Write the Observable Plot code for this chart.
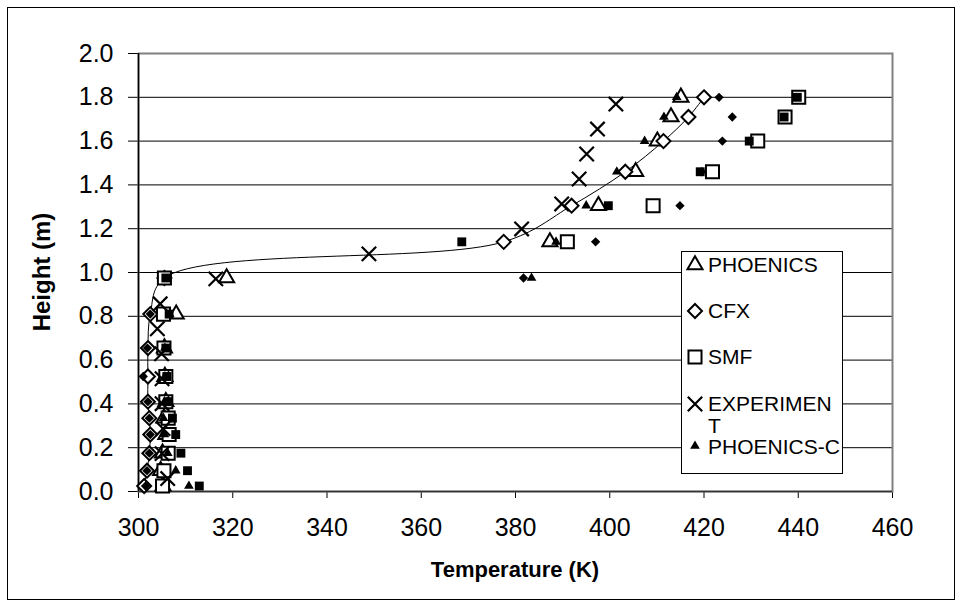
<!DOCTYPE html>
<html>
<head>
<meta charset="utf-8">
<script src="https://cdn.jsdelivr.net/npm/d3@7"></script>
<script src="https://cdn.jsdelivr.net/npm/@observablehq/plot@0.6"></script>
<style>
  html, body { margin: 0; padding: 0; background: #fff; }
  #wrap { position: relative; width: 964px; height: 608px; font-family: "Liberation Sans", Arial, sans-serif; }
  #outer { position: absolute; left: 7px; top: 7px; width: 948px; height: 593px; border: 1px solid #000; box-sizing: border-box; pointer-events: none; }
  #chart { position: absolute; left: 0; top: 0; }
  #legend { position: absolute; left: 0; top: 0; }
</style>
</head>
<body>
<div id="wrap">
  <div id="outer"></div>
  <div id="chart"></div>
  <svg id="legend" width="964" height="608"></svg>
</div>
<script>
// ---- data ----
const heights = [0.025, 0.095, 0.175, 0.26, 0.335, 0.41, 0.525, 0.655, 0.81, 0.975, 1.14, 1.305, 1.46, 1.6, 1.71, 1.8];
const expHeights = [0.059, 0.173, 0.287, 0.401, 0.515, 0.629, 0.743, 0.857, 0.971, 1.085, 1.199, 1.313, 1.427, 1.541, 1.655, 1.769];
const phoenics   = [305.2, 304.7, 305.1, 305.8, 305.4, 305.8, 305.6, 305.5, 308.0, 318.7, 387.3, 397.6, 405.5, 410.1, 413.0, 415.1];
const cfx        = [301.2, 301.8, 302.3, 302.5, 302.3, 302.0, 302.0, 302.0, 302.5, 305.5, 377.5, 391.9, 403.3, 411.4, 416.7, 420.0];
const smf        = [305.1, 305.4, 306.3, 306.5, 306.3, 305.8, 305.8, 305.4, 305.3, 305.5, 391.0, 409.2, 421.8, 431.4, 437.2, 440.1];
const experiment = [306.2, 305.0, 305.2, 305.0, 305.0, 304.9, 304.0, 304.6, 316.4, 348.9, 381.3, 389.8, 393.5, 395.1, 397.4, 401.3];
const phoenicsC  = [310.7, 307.9, 306.2, 305.5, 305.3, 305.5, 305.6, 305.6, 306.6, 383.4, 388.6, 395.0, 401.5, 407.4, 411.5, 414.2];
const cfxC       = [301.5, 301.8, 302.3, 302.5, 302.3, 302.0, 301.0, 301.9, 302.5, 381.7, 397.0, 414.9, 419.5, 423.9, 426.0, 423.2];
const smfC       = [312.9, 310.4, 309.0, 307.9, 307.2, 306.3, 306.0, 305.8, 306.5, 305.8, 368.6, 399.7, 419.2, 429.6, 437.0, 439.8];

const xTicks = [300, 320, 340, 360, 380, 400, 420, 440, 460];
const yTicks = [0.0, 0.2, 0.4, 0.6, 0.8, 1.0, 1.2, 1.4, 1.6, 1.8, 2.0];
const legendNames = ["PHOENICS", "CFX", "SMF", "EXPERIMENT", "PHOENICS-C"];
const xTitle = "Temperature (K)";
const yTitle = "Height (m)";

// ---- build tables ----
const rows = (temps, hs) => temps.map((t, i) => ({t, h: hs[i]}));
const dPh = rows(phoenics, heights);
const dCfx = rows(cfx, heights);
const dSmf = rows(smf, heights);
const dExp = rows(experiment, expHeights);
const dPhC = rows(phoenicsC, heights);
const dCfxC = rows(cfxC, heights);
const dSmfC = rows(smfC, heights);

const FONT = "'Liberation Sans', Arial, sans-serif";

const chart = Plot.plot({
  width: 964,
  height: 608,
  marginLeft: 138,
  marginRight: 72,
  marginTop: 53,
  marginBottom: 117,
  style: { fontFamily: FONT, fontSize: "25px", color: "#000", background: "transparent", overflow: "visible" },
  x: { domain: [300, 460], ticks: xTicks, tickSize: 7, tickPadding: 20, tickFormat: d => String(d), label: null },
  y: { domain: [0, 2], ticks: yTicks, tickSize: 10, tickPadding: 15, tickFormat: d3.format(".1f"), label: null },
  marks: [
    Plot.gridY(yTicks.filter(v => v > 0 && v < 2), { stroke: "#000", strokeOpacity: 1, strokeWidth: 1 }),
    Plot.frame({ stroke: "#808080", strokeWidth: 2 }),
    Plot.ruleX([300], { stroke: "#000", strokeWidth: 1.5 }),
    Plot.ruleY([0], { stroke: "#333", strokeWidth: 1.5 }),
    // PHOENICS
    Plot.dot(dPh, { x: "t", y: "h", symbol: "triangle2", r: 7.2, stroke: "#000", strokeWidth: 2, fill: "#fff" }),
    // CFX smooth line + markers
    Plot.line(dCfx, { x: "t", y: "h", curve: "catmull-rom", stroke: "#000", strokeWidth: 1 }),
    Plot.dot(dCfx, { x: "t", y: "h", symbol: "diamond2", r: 6.3, stroke: "#000", strokeWidth: 2, fill: "#fff" }),
    // SMF
    Plot.dot(dSmf, { x: "t", y: "h", symbol: "square2", r: 8.3, stroke: "#000", strokeWidth: 2, fill: "#fff" }),
    // EXPERIMENT
    Plot.dot(dExp, { x: "t", y: "h", symbol: "times", r: 6.6, stroke: "#000", strokeWidth: 2.2 }),
    // PHOENICS-C
    Plot.dot(dPhC, { x: "t", y: "h", symbol: "triangle", r: 3.6, fill: "#000", stroke: "none" }),
    // CFX-C
    Plot.dot(dCfxC, { x: "t", y: "h", symbol: "diamond2", r: 4.2, fill: "#000", stroke: "none" }),
    // SMF-C
    Plot.dot(dSmfC, { x: "t", y: "h", symbol: "square", r: 5, fill: "#000", stroke: "none" })
  ]
});
document.getElementById("chart").appendChild(chart);

// axis titles
const xs = chart.scale("x"), ys = chart.scale("y");
const svg = d3.select(chart);
svg.append("text")
  .attr("x", (xs.apply(300) + xs.apply(460)) / 2)
  .attr("y", 569).attr("dy", "0.35em")
  .attr("text-anchor", "middle")
  .style("font", `bold 22px ${FONT}`)
  .text(xTitle);
svg.append("text")
  .attr("transform", `translate(42,${(ys.apply(0) + ys.apply(2)) / 2}) rotate(-90)`)
  .attr("dy", "0.35em")
  .attr("text-anchor", "middle")
  .style("font", `bold 24px ${FONT}`)
  .text(yTitle);

// legend
const lg = d3.select("#legend");
lg.append("rect").attr("x", 681.5).attr("y", 251.5).attr("width", 161).attr("height", 222)
  .attr("fill", "#fff").attr("stroke", "#000").attr("stroke-width", 1);
const sym = (type, r) => d3.symbol().type(type).size(Math.PI * r * r)();
const legendMarks = [
  { path: sym(d3.symbolTriangle2, 7.2), fill: "#fff", stroke: "#000", sw: 2, y: 265 },
  { path: sym(d3.symbolDiamond2, 6.3), fill: "#fff", stroke: "#000", sw: 2, y: 311 },
  { path: sym(d3.symbolSquare2, 8.3), fill: "#fff", stroke: "#000", sw: 2, y: 357 },
  { path: sym(d3.symbolTimes, 6.6), fill: "none", stroke: "#000", sw: 2.2, y: 404 },
  { path: sym(d3.symbolTriangle, 3.6), fill: "#000", stroke: "none", sw: 0, y: 446 }
];
legendMarks.forEach((m) => {
  lg.append("path").attr("d", m.path).attr("transform", `translate(695,${m.y})`)
    .attr("fill", m.fill).attr("stroke", m.stroke).attr("stroke-width", m.sw);
});
const legendLines = [
  [legendNames[0], 265], [legendNames[1], 311], [legendNames[2], 357],
  [legendNames[3].slice(0, 9), 404], [legendNames[3].slice(9), 426], [legendNames[4], 447]
];
legendLines.forEach(([txt, y]) => {
  lg.append("text").attr("x", 708).attr("y", y).attr("dy", "0.35em")
    .style("font", `21px ${FONT}`).attr("fill", "#000").text(txt);
});
</script>
</body>
</html>
